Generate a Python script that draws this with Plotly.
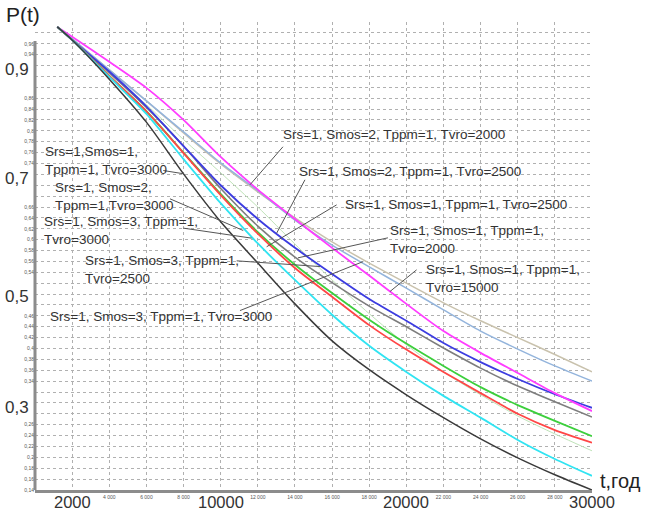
import plotly.graph_objects as go

# ---------------- data ----------------
T = [1200, 2000, 4000, 6000, 8000, 10000, 12000, 14000, 16000, 18000,
     20000, 22000, 24000, 26000, 28000, 30000]

P_magenta = [0.991, 0.973, 0.927, 0.879, 0.820, 0.752, 0.692, 0.638, 0.585, 0.534,
             0.482, 0.432, 0.392, 0.355, 0.318, 0.285]
P_lightblue = [0.991, 0.969, 0.912, 0.855, 0.798, 0.741, 0.690, 0.636, 0.590, 0.550,
               0.511, 0.471, 0.432, 0.399, 0.368, 0.340]
P_tan = [0.991, 0.969, 0.912, 0.855, 0.796, 0.739, 0.688, 0.640, 0.596, 0.557,
         0.520, 0.484, 0.451, 0.420, 0.389, 0.357]
P_blue = [0.991, 0.967, 0.909, 0.845, 0.772, 0.700, 0.638, 0.585, 0.537, 0.491,
          0.451, 0.410, 0.375, 0.344, 0.316, 0.291]
P_gray = [0.991, 0.967, 0.907, 0.843, 0.772, 0.694, 0.625, 0.568, 0.521, 0.478,
          0.440, 0.401, 0.364, 0.331, 0.302, 0.274]
P_green = [0.991, 0.967, 0.901, 0.836, 0.760, 0.684, 0.614, 0.554, 0.502, 0.453,
           0.409, 0.368, 0.329, 0.296, 0.267, 0.239]
P_red = [0.991, 0.967, 0.901, 0.836, 0.759, 0.682, 0.611, 0.548, 0.495, 0.443,
         0.398, 0.357, 0.318, 0.280, 0.250, 0.227]
P_palegreen = [0.991, 0.967, 0.905, 0.848, 0.784, 0.723, 0.660, 0.592, 0.526, 0.464,
               0.407, 0.357, 0.315, 0.276, 0.243, 0.212]
P_cyan = [0.991, 0.967, 0.899, 0.831, 0.748, 0.667, 0.593, 0.526, 0.462, 0.405,
          0.357, 0.313, 0.273, 0.232, 0.197, 0.166]
P_black = [0.991, 0.967, 0.895, 0.816, 0.721, 0.633, 0.557, 0.482, 0.414, 0.361,
           0.315, 0.273, 0.234, 0.199, 0.168, 0.140]

# tick labels
X_SMALL_TICKS = [4000, 6000, 8000, 12000, 14000, 16000, 18000, 22000, 24000, 26000, 28000]
X_BIG_TICKS = [2000, 10000, 20000, 30000]
Y_SMALL_TICKS = [0.96, 0.94, 0.86, 0.84, 0.82, 0.8, 0.78, 0.76, 0.74,
                 0.66, 0.64, 0.62, 0.6, 0.58, 0.56, 0.54,
                 0.46, 0.44, 0.42, 0.4, 0.38, 0.36, 0.34,
                 0.26, 0.24, 0.22, 0.2, 0.18, 0.16, 0.14]
Y_BIG_TICKS = [0.9, 0.7, 0.5, 0.3]
Y_BIG_SHIFT = [7, 7, -2, -5]

# curve labels: (text, text x, text y, leader from (x,y) to (x,y))
LABELS = [
    ("Srs=1, Smos=2, Tppm=1, Tvro=2000", 13247, 0.7927, (13355, 0.7707, 11578, 0.7008)),
    ("Srs=1, Smos=2, Tppm=1, Tvro=2500", 14093, 0.7253, (14540, 0.7100, 13016, 0.6120)),
    ("Srs=1, Smos=1, Tppm=1, Tvro=2500", 16586, 0.6640, (16246, 0.6640, 12477, 0.5870)),
    ("Srs=1, Smos=1, Tppm=1,<br>Tvro=2000", 19009, 0.6006, (19009, 0.6034, 14163, 0.5666)),
    ("Srs=1, Smos=1, Tppm=1,<br>Tvro=15000", 20948, 0.5293, (20554, 0.5446, 19117, 0.5047)),
    ("Srs=1,Smos=1,<br>Tppm=1, Tvro=3000", 415, 0.7458, (6909, 0.7271, 8024, 0.7210)),
    ("Srs=1, Smos=2,<br>Tppm=1,Tvro=3000", 953, 0.6793, (7270, 0.6751, 11217, 0.6168)),
    ("Srs=1, Smos=3, Tppm=1,<br>Tvro=3000", 361, 0.6172, (7986, 0.6212, 11669, 0.6028)),
    ("Srs=1, Smos=3, Tppm=1,<br>Tvro=2500", 2569, 0.5460, (10862, 0.5611, 15347, 0.5506)),
    ("Srs=1, Smos=3, Tppm=1, Tvro=3000", 716, 0.4587, (11039, 0.4697, 17679, 0.5598)),
]

SERIES = [
    (P_tan, "#c9c2ad", 1.5),
    (P_lightblue, "#93b4dc", 1.5),
    (P_palegreen, "#bfe3b8", 1.0),
    (P_gray, "#7d7d7d", 1.6),
    (P_blue, "#3c3ce0", 1.8),
    (P_magenta, "#ff3cff", 1.8),
    (P_green, "#3ccf3c", 1.8),
    (P_red, "#ff4646", 1.8),
    (P_cyan, "#30e4f2", 1.8),
    (P_black, "#3a3a3a", 1.5),
]

FONT = "Liberation Sans, Arial, sans-serif"

fig = go.Figure()
for vals, col, w in SERIES:
    fig.add_trace(go.Scatter(x=T, y=vals, mode="lines",
                             line=dict(color=col, width=w, shape="spline", smoothing=0.7),
                             showlegend=False, hoverinfo="skip"))

x_grid = list(range(2000, 30001, 2000))
x_text = [(f"{v:,}".replace(",", " ") if v in X_SMALL_TICKS else "") for v in x_grid]
y_grid = [round(v / 100, 2) for v in range(14, 101, 2)]
y_text = [(f"{v:g}".replace(".", ",") if any(abs(v - s) < 1e-9 for s in Y_SMALL_TICKS) else "")
          for v in y_grid]

fig.update_layout(
    width=645, height=512,
    margin=dict(l=35, r=53, t=22, b=22),
    paper_bgcolor="white", plot_bgcolor="white",
    font=dict(family=FONT, color="#333333"),
    xaxis=dict(range=[0, 30000], tickmode="array", tickvals=x_grid, ticktext=x_text,
               tickfont=dict(size=5, color="#555555"), ticks="",
               showgrid=True, gridcolor="#b0b0b0", griddash="dot", gridwidth=1,
               zeroline=False, showline=True, linecolor="#8c8c8c", linewidth=3),
    yaxis=dict(range=[0.14, 1.0], tickmode="array", tickvals=y_grid, ticktext=y_text,
               tickfont=dict(size=5, color="#555555"), ticks="",
               showgrid=True, gridcolor="#b0b0b0", griddash="dot", gridwidth=1,
               zeroline=False, showline=False),
)

# left axis line (does not reach the top)
fig.add_shape(type="line", xref="paper", yref="y", x0=0, x1=0, y0=0.14, y1=0.965,
              line=dict(color="#8c8c8c", width=3))

ann = []
for v, sh in zip(Y_BIG_TICKS, Y_BIG_SHIFT):
    ann.append(dict(x=0, xref="paper", y=v, yref="y", text=f"{v:g}".replace(".", ","),
                    showarrow=False, xanchor="right", yanchor="middle", xshift=-4, yshift=sh,
                    font=dict(size=17, color="#333333")))
for v in X_BIG_TICKS:
    ann.append(dict(x=v, xref="x", y=0, yref="paper", text=str(v),
                    showarrow=False, xanchor="center", yanchor="top", yshift=-1,
                    font=dict(size=16.5, color="#333333")))
ann.append(dict(x=0, xref="paper", y=1.0, yref="y", text="P(t)", showarrow=False,
                xanchor="left", yanchor="middle", xshift=-31, yshift=8,
                font=dict(size=21, color="#222222")))
ann.append(dict(x=1, xref="paper", y=0.157, yref="y", text="t,год", showarrow=False,
                xanchor="left", yanchor="middle", xshift=6,
                font=dict(size=20, color="#222222")))

for text, tx, ty, (x0, y0, x1, y1) in LABELS:
    ann.append(dict(x=tx, y=ty, xref="x", yref="y", text=text, showarrow=False,
                    xanchor="left", yanchor="middle", align="left",
                    font=dict(size=13.5, color="#333333")))
    fig.add_shape(type="line", xref="x", yref="y", x0=x0, y0=y0, x1=x1, y1=y1,
                  line=dict(color="#555555", width=1))

fig.update_layout(annotations=ann)

fig.write_html("out.html", config={"displayModeBar": False},
               post_script="document.body.style.margin='0';")
